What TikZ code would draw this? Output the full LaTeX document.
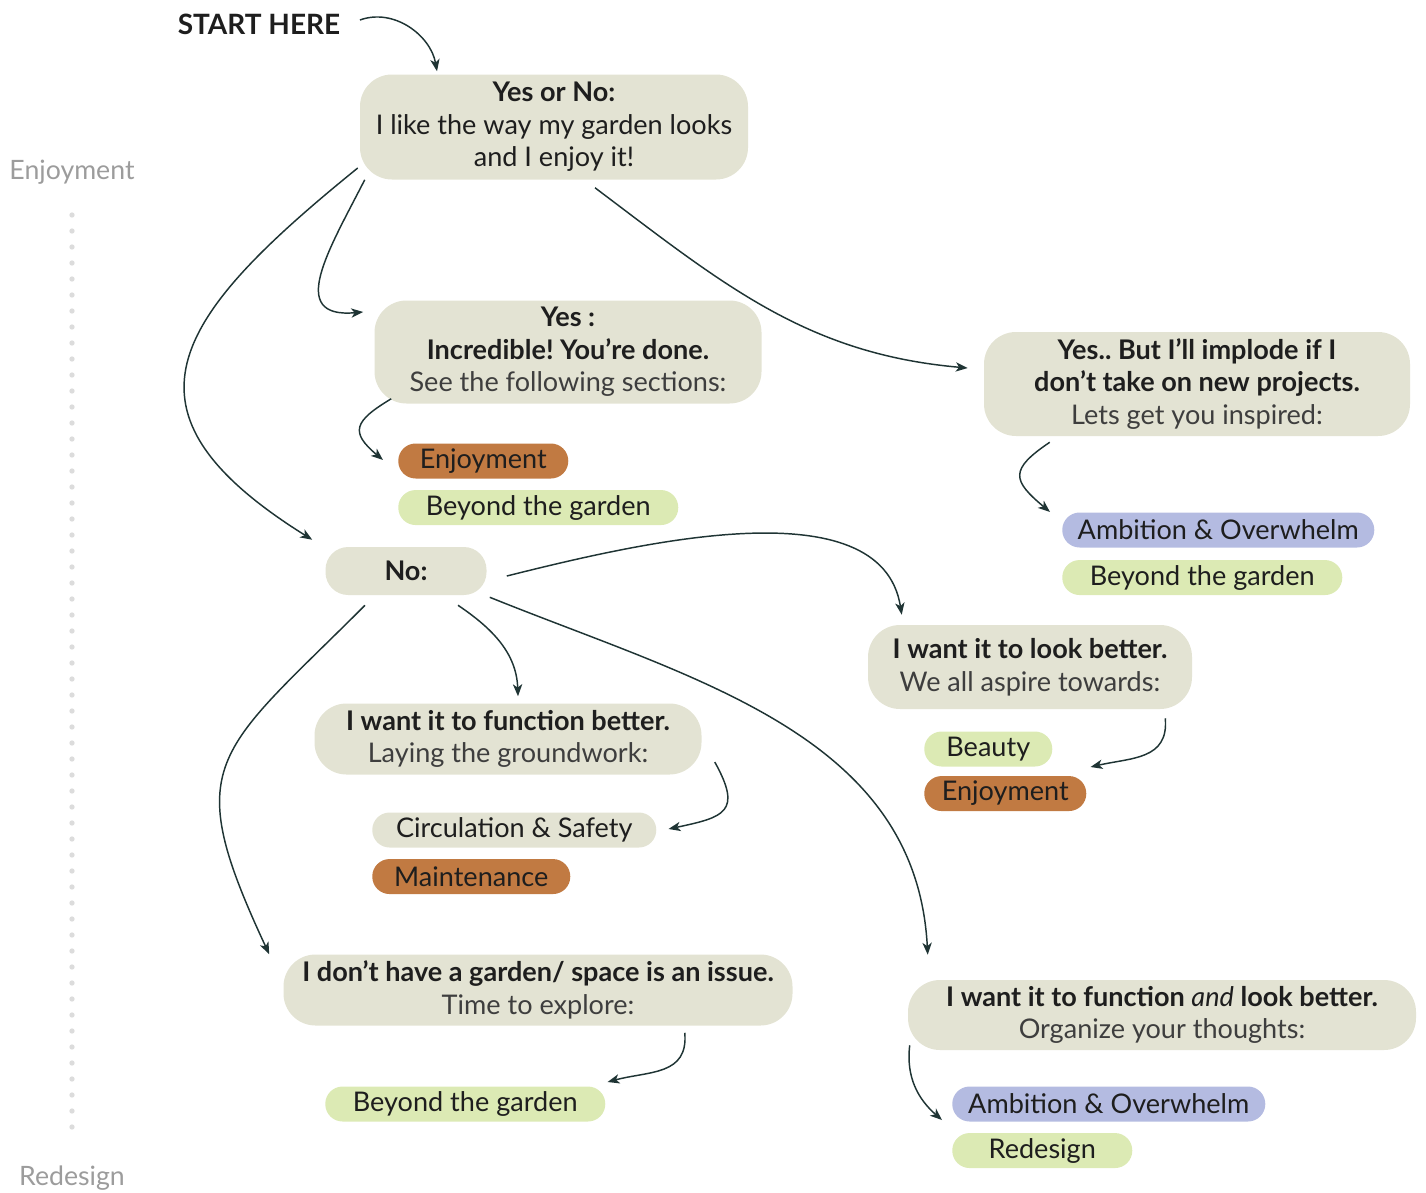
\documentclass[tikz,border=0pt]{standalone}
\usepackage{fontspec}
\setmainfont{Lato}
\usetikzlibrary{arrows.meta,positioning}
\frenchspacing

\definecolor{card}{HTML}{E3E3D3}
\definecolor{rust}{HTML}{C17A42}
\definecolor{leaf}{HTML}{DCEAB4}
\definecolor{lilac}{HTML}{B4BBE1}
\definecolor{ink}{HTML}{1E1E1E}
\definecolor{soft}{HTML}{3E3E3E}
\definecolor{wire}{HTML}{1F3434}
\definecolor{axis}{HTML}{9C9C9C}
\definecolor{dots}{HTML}{DCDCDC}

\newcommand{\lite}[1]{{\color{soft}#1}}

\tikzset{
    box/.style =    {rectangle,
                    rounded corners=24pt,
                    fill=card,
                    text=ink,
                    align=center,
                    inner sep=0pt,
                    font=\fontsize{20.3}{24.4}\selectfont},
    tag/.style =    {rectangle,
                    rounded corners=13pt,
                    text=ink,
                    anchor=west,
                    inner sep=0pt,
                    minimum height=26.25pt,
                    font=\fontsize{20.3}{24}\selectfont},
    axislabel/.style = {text=axis,
                    font=\fontsize{20}{24}\selectfont},
    link/.style =   {draw=wire,
                    line width=1.1pt,
                    -{Stealth[length=9pt,width=7pt,inset=2.5pt]}}
}

\begin{document}
\begin{tikzpicture}[x=0.75pt,y=-0.75pt]
    \useasboundingbox (0,0) rectangle (1426,1192);

    % scale on the left
    \foreach \y in {215,231,...,1140}
        \fill[dots] (72,\y) circle[radius=2pt];
    \node[axislabel] (top)    at (72,172)  {Enjoyment};
    \node[axislabel] (bottom) at (72,1178) {Redesign};

    % questions
    \node[text=ink, font=\bfseries\fontsize{21}{24}\selectfont] (start) at (259,24) {START HERE};
    \node[box, minimum width=291pt, minimum height=78.75pt] (Q) at (554,127)
        {\textbf{Yes or No:}\\ I like the way my garden looks\\ and I enjoy it!};
    \node[box, minimum width=290.25pt, minimum height=77.25pt] (Yes) at (568,352)
        {\textbf{Yes :}\\ \textbf{Incredible! You’re done.}\\ \lite{See the following sections:}};
    \node[box, minimum width=319.5pt, minimum height=78pt] (YesBut) at (1197,384)
        {\textbf{Yes.. But I’ll implode if I}\\ \textbf{don’t take on new projects.}\\ \lite{Lets get you inspired:}};
    \node[box, rounded corners=17pt, minimum width=120.75pt, minimum height=36pt] (No) at (406,571)
        {\textbf{No:}};
    \node[box, minimum width=243pt, minimum height=63pt] (Look) at (1030,667)
        {\textbf{I want it to look better.}\\ \lite{We all aspire towards:}};
    \node[box, minimum width=290.25pt, minimum height=53.25pt] (Function) at (508,739)
        {\textbf{I want it to function better.}\\ \lite{Laying the groundwork:}};
    \node[box, minimum width=381.75pt, minimum height=53.25pt] (NoGarden) at (538,990)
        {\textbf{I don’t have a garden/ space is an issue.}\\ \lite{Time to explore:}};
    \node[box, minimum width=381pt, minimum height=52.5pt] (FuncLook) at (1162,1015)
        {\textbf{I want it to function {\mdseries\itshape and} look better.}\\ \lite{Organize your thoughts:}};

    % sections
    \node[tag, fill=rust, minimum width=127.5pt] (EnjA) at (398,461) {Enjoyment};
    \node[tag, fill=leaf, minimum width=210pt, below right=8.25pt and 0pt of EnjA.south west] (BeyA) {Beyond the garden};
    \node[tag, fill=lilac, minimum width=234pt] (AmbB) at (1062,530) {Ambition \& Overwhelm};
    \node[tag, fill=leaf, minimum width=210pt, below right=9pt and 0pt of AmbB.south west] (BeyB) {Beyond the garden};
    \node[tag, fill=leaf, minimum width=96pt] (Beauty) at (924,749) {Beauty};
    \node[tag, fill=rust, minimum width=121.5pt, below right=6.75pt and 0pt of Beauty.south west] (EnjC) {Enjoyment};
    \node[tag, fill=card, minimum width=213pt] (Circ) at (372,830) {Circulation \& Safety};
    \node[tag, fill=rust, minimum width=148.5pt, below right=8.25pt and 0pt of Circ.south west] (Maint) {Maintenance};
    \node[tag, fill=leaf, minimum width=210pt] (BeyD) at (325,1104) {Beyond the garden};
    \node[tag, fill=lilac, minimum width=234.75pt] (AmbE) at (952,1104) {Ambition \& Overwhelm};
    \node[tag, fill=leaf, minimum width=135pt, below right=8.25pt and 0pt of AmbE.south west] (Redes) {Redesign};

    % arrows
    \draw[link] ([shift={(15,-4)}]start.east) to[out=20,in=100] ([shift={(-117,-3)}]Q.north);
    \draw[link] ([shift={(-2,41)}]Q.west) to[out=219,in=148,looseness=1.65] ([shift={(-13,-7)}]No.north west);
    \draw[link] ([shift={(5,0)}]Q.south west) to[out=243,in=185,looseness=1.5] ([shift={(-11,-40)}]Yes.west);
    \draw[link] ([shift={(41,8)}]Q.south) to[out=323,in=175] ([shift={(-16,-16)}]YesBut.west);
    \draw[link] ([shift={(17,-5)}]Yes.south west) to[out=211,in=140,looseness=1.8] ([shift={(-15,-1)}]EnjA.west);
    \draw[link] ([shift={(66,6)}]YesBut.south west) to[out=214,in=140,looseness=1.8] ([shift={(-12,-18)}]AmbB.west);
    \draw[link] ([shift={(20,5)}]No.east) to[out=14,in=99,looseness=0.85] ([shift={(34,-10)}]Look.north west);
    \draw[link] ([shift={(52,10)}]No.south) to[out=326,in=92] ([shift={(10,-7)}]Function.north);
    \draw[link] ([shift={(-41,10)}]No.south) to[out=225,in=115,looseness=1.5] ([shift={(-14,0)}]NoGarden.north west);
    \draw[link] ([shift={(3,2)}]No.south east) to[out=338,in=93] ([shift={(20,-25)}]FuncLook.north west);
    \draw[link] ([shift={(-27,9)}]Look.south east) to[out=275,in=13,looseness=1.2] ([shift={(38,18)}]Beauty.east);
    \draw[link] ([shift={(13,23)}]Function.east) to[out=299,in=12,looseness=1.8] ([shift={(12,-1)}]Circ.east);
    \draw[link] ([shift={(-108,7)}]NoGarden.south east) to[out=275,in=15,looseness=1.2] ([shift={(2,-22)}]BeyD.east);
    \draw[link] ([shift={(2,-5)}]FuncLook.south west) to[out=263,in=139] ([shift={(-10,16)}]AmbE.west);
\end{tikzpicture}
\end{document}
